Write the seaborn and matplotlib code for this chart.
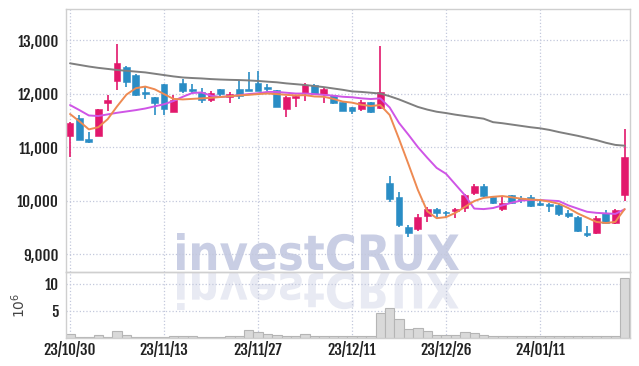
import matplotlib
matplotlib.use("Agg")
import matplotlib.pyplot as plt
import numpy as np
import pandas as pd
import seaborn as sns
from matplotlib.textpath import TextPath
from matplotlib.patches import PathPatch
from matplotlib.font_manager import FontProperties
from matplotlib.transforms import Affine2D, IdentityTransform

# trading days (KRX holidays removed)
dates = pd.bdate_range("2023-10-30", "2024-01-24")
dates = dates.drop(pd.to_datetime(["2023-12-25", "2023-12-29", "2024-01-01"]))
tick_labels = ["23/10/30", "23/11/13", "23/11/27", "23/12/11", "23/12/26", "24/01/11"]

open_ = [11200, 11540, 11150, 11210, 11820, 12240, 12500, 12340, 12030, 11930,
         12180, 11660, 12190, 12080, 12035, 11880, 12080, 11930, 12080, 12080,
         12190, 12130, 12060, 11716, 11925, 12005, 12160, 11985, 11970, 11850,
         11750, 11705, 11835, 11725, 10320, 10070, 9510, 9467, 9716, 9836,
         9786, 9805, 9855, 10147, 10277, 10060, 9836, 10097, 10047, 10060,
         9960, 9935, 9916, 9773, 9698, 9399, 9387, 9760, 9573, 10103]
high = [11470, 11600, 11290, 11720, 11970, 12920, 12520, 12370, 12120, 11935,
        12180, 11970, 12280, 12170, 12100, 12050, 12090, 12035, 12240, 12410,
        12430, 12170, 12070, 11955, 11960, 12200, 12180, 12115, 11975, 11850,
        11755, 11880, 11850, 12890, 10460, 10165, 9545, 9750, 9885, 9855,
        9800, 9855, 10120, 10310, 10300, 10080, 10085, 10100, 10084, 10097,
        9990, 9945, 9935, 9823, 9710, 9525, 9716, 9823, 9847, 11330]
low = [10810, 11130, 11070, 11200, 11670, 12070, 12120, 11960, 11890, 11600,
       11600, 11650, 12010, 11990, 11830, 11850, 11960, 11815, 11890, 12040,
       12045, 12050, 11750, 11555, 11755, 11865, 11970, 11815, 11800, 11670,
       11610, 11673, 11630, 11720, 9980, 9510, 9325, 9435, 9605, 9667,
       9700, 9667, 9790, 10103, 10060, 9930, 9810, 9940, 9960, 9873,
       9900, 9786, 9720, 9680, 9420, 9310, 9380, 9560, 9570, 9997]
close = [11450, 11130, 11100, 11710, 11880, 12580, 12220, 11970, 12000, 11820,
         11710, 11880, 12050, 12040, 11880, 12015, 11985, 12000, 11955, 12050,
         12050, 12080, 11755, 11930, 11955, 12160, 11985, 12080, 11815, 11680,
         11680, 11847, 11650, 12020, 10030, 9545, 9390, 9686, 9836, 9775,
         9760, 9836, 10100, 10277, 10090, 9950, 9947, 9947, 10010, 9897,
         9922, 9897, 9748, 9710, 9436, 9350, 9673, 9573, 9823, 10808]
volume = [0.7, 0.25, 0.2, 0.5, 0.25, 1.3, 0.5, 0.2, 0.15, 0.15,
          0.15, 0.3, 0.45, 0.35, 0.15, 0.15, 0.2, 0.3, 0.4, 1.4,
          1.15, 0.65, 0.55, 0.4, 0.4, 0.8, 0.3, 0.4, 0.4, 0.3,
          0.4, 0.4, 0.4, 4.7, 5.5, 3.6, 1.6, 1.8, 1.35, 0.5,
          0.5, 0.55, 1.2, 1.0, 0.6, 0.4, 0.4, 0.3, 0.4, 0.4,
          0.3, 0.3, 0.4, 0.3, 0.4, 0.3, 0.4, 0.3, 0.4, 11.1]
ma5 = [11617, 11480, 11330, 11370, 11520, 11760, 11980, 12100, 12130, 12080,
       11990, 11900, 11890, 11900, 11910, 11920, 11935, 11950, 11965, 11975,
       11990, 12000, 11990, 11975, 11965, 11970, 11945, 11940, 11900, 11850,
       11830, 11790, 11766, 11785, 11600, 11150, 10680, 10200, 9800, 9670,
       9690, 9770, 9880, 9990, 10050, 10070, 10084, 10060, 10035, 10020,
       10009, 9980, 9940, 9860, 9760, 9680, 9600, 9580, 9600, 9840]
ma20 = [11785, 11690, 11590, 11580, 11610, 11640, 11665, 11690, 11720, 11760,
        11800, 11860, 11940, 12010, 12020, 11960, 11935, 11950, 11970, 11990,
        12005, 12030, 12030, 12015, 12000, 12000, 11990, 11975, 11960, 11940,
        11930, 11910, 11897, 11910, 11740, 11450, 11230, 11000, 10800, 10610,
        10500, 10300, 10100, 9850, 9840, 9860, 9910, 9960, 10000, 10009,
        10009, 10000, 9990, 9910, 9850, 9790, 9770, 9760, 9750, 9836]
ma60 = [12565, 12535, 12505, 12480, 12460, 12440, 12425, 12410, 12395, 12370,
        12345, 12320, 12300, 12290, 12282, 12270, 12262, 12256, 12252, 12245,
        12235, 12222, 12210, 12190, 12175, 12160, 12140, 12120, 12095, 12070,
        12040, 12030, 12015, 12000, 11950, 11890, 11820, 11750, 11700, 11660,
        11635, 11605, 11580, 11555, 11530, 11465, 11445, 11420, 11395, 11370,
        11350, 11320, 11280, 11245, 11210, 11170, 11130, 11080, 11040, 11025]

UP = "#e2186c"
DOWN = "#2a8dc5"

sns.set_style("white")
plt.rcParams["font.family"] = ["Fjalla One", "Oswald", "Liberation Sans Narrow", "DejaVu Sans"]

fig = plt.figure(figsize=(6.39, 3.66), dpi=100)
fig.patch.set_facecolor("white")
ax = fig.add_axes([0.1033, 0.2568, 0.8826, 0.7186])
axv = fig.add_axes([0.1033, 0.0765, 0.8826, 0.1803], sharex=ax)

idx = np.arange(len(dates))
o, h, l, c = map(np.array, (open_, high, low, close))
colors = np.where(c >= o, UP, DOWN)

# watermark with reflection, behind the axes
fp = FontProperties(family="DejaVu Sans", weight="bold")
tp = TextPath((0, 0), "investCRUX", size=1, prop=fp)
ext = tp.get_extents()
sx = 282 / ext.width
sy = 37 / ext.y1
mark = PathPatch(tp, transform=Affine2D().translate(-ext.x0, 0).scale(sx, sy).translate(177, 96)
                 + IdentityTransform(), color="#c9cee4", lw=0, zorder=-5)
refl = PathPatch(tp, transform=Affine2D().translate(-ext.x0, 0).scale(sx, -sy).translate(177, 93)
                 + IdentityTransform(), color="#e8eaf3", lw=0, zorder=-5)
fig.add_artist(mark)
fig.add_artist(refl)
ax.set_facecolor("none")
axv.set_facecolor("none")

# candles
ax.vlines(idx, l, h, colors=colors, lw=1.2, zorder=3)
body = np.maximum(np.abs(c - o), 35)
ax.bar(idx, body, bottom=np.minimum(o, c), width=0.72, color=colors,
       edgecolor=colors, lw=0.4, zorder=3)

# moving averages
sns.lineplot(x=idx, y=ma60, ax=ax, color="#7f7f7f", lw=1.4, zorder=4)
sns.lineplot(x=idx, y=ma20, ax=ax, color="#cf55e6", lw=1.4, zorder=4)
sns.lineplot(x=idx, y=ma5, ax=ax, color="#ee8a52", lw=1.4, zorder=4)

# volume
sns.barplot(x=idx, y=volume, ax=axv, color="#d9d9d9", edgecolor="#b5b5b5",
            lw=0.8, width=1.0, saturation=1, zorder=2)

tick_pos = [i for i, d in enumerate(dates) if d.strftime("%y/%m/%d") in tick_labels]

for a in (ax, axv):
    a.grid(True, color="#c3c8dc", ls=":", lw=0.9)
    a.set_axisbelow(True)
    for s in a.spines.values():
        s.set_color("#cfcfcf")
        s.set_linewidth(1.0)
    a.tick_params(length=0, labelsize=11, labelcolor="#222222", pad=5)
axv.tick_params(axis="x", pad=3)

ax.set_xlim(-0.43, 59.57)
ax.set_ylim(8664, 13580)
ax.set_yticks([9000, 10000, 11000, 12000, 13000])
ax.set_yticklabels([f"{v:,}" for v in [9000, 10000, 11000, 12000, 13000]])
ax.set_xticks(tick_pos)
ax.tick_params(axis="x", labelbottom=False)
ax.set_xlabel("")
ax.set_ylabel("")

axv.set_ylim(0, 12.2)
axv.set_yticks([5, 10])
axv.set_yticklabels(["5", "10"])
axv.set_xticks(tick_pos)
axv.set_xticklabels(tick_labels)
axv.set_xlim(-0.43, 59.57)
axv.set_xlabel("")
axv.set_ylabel(r"$10^6$", fontsize=10, color="#444444", labelpad=12,
               family="DejaVu Sans")

fig.savefig("out.png", dpi=100)
